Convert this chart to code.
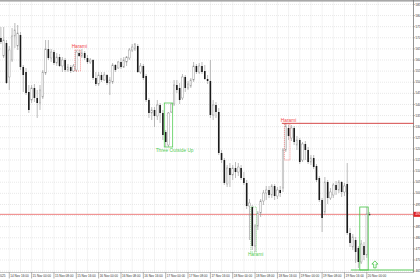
<!DOCTYPE html>
<html>
<head>
<meta charset="utf-8">
<script src="https://cdn.jsdelivr.net/npm/d3@7"></script>
<style>
  html, body { margin: 0; padding: 0; background: #fff; overflow: hidden; }
  svg { display: block; }
</style>
</head>
<body>
<div id="chart"></div>
<script>
const width = 420;
const height = 280;
const plotRight = 413.5;
const plotBottom = 272.5;
const barWidth = 1.6;

// hourly candles, first one at 14 Nov 2025 13:00
const startTime = Date.UTC(2025, 10, 14, 13);

const opens = [
  5699, 5618, 5676.5, 5523.5, 5600, 5708, 5663, 5712.5, 5568.5, 5546,
  5456, 5420, 5474, 5429, 5406.5, 5433.5, 5541.5, 5649.5, 5609, 5636,
  5586.5, 5613.5, 5573, 5600, 5555, 5568.5, 5550.5, 5555, 5631.5, 5618,
  5631.5, 5609, 5591, 5600, 5519, 5492, 5532.5, 5510, 5532.5, 5496.5,
  5501, 5577.5, 5564, 5591, 5568.5, 5591, 5609, 5645, 5649.5, 5663,
  5546, 5573, 5528, 5420, 5361.5, 5375, 5348, 5397.5, 5361.5, 5276,
  5217.5, 5366, 5402, 5487.5, 5474, 5429, 5523.5, 5474, 5483, 5510,
  5573, 5546, 5573, 5550.5, 5514.5, 5505.5, 5352.5, 5397.5, 5366, 5181.5,
  5150, 5042, 5114, 5082.5, 5114, 5096, 5114, 5069, 5046.5, 4943,
  4938.5, 4763, 4853, 4911.5, 4965.5, 5001.5, 5015, 4992.5, 5033, 4988,
  5015, 5024, 5195, 5294, 5249, 5294, 5217.5, 5240, 5150, 5222,
  5195, 5141, 5159, 5123, 5069, 4970, 4916, 5051, 4979, 4992.5,
  5037.5, 5015, 5051, 5006, 5042, 4821.5, 4758.5, 4790, 4754, 4691,
  4763, 4722.5, 4907
];
const highs = [
  5748.5, 5748.5, 5690, 5663, 5744, 5766.5, 5757.5, 5726, 5577.5, 5564,
  5487.5, 5487.5, 5492, 5465, 5487.5, 5555, 5690, 5690, 5649.5, 5645,
  5631.5, 5627, 5613.5, 5609, 5582, 5577.5, 5582, 5645, 5645, 5649.5,
  5640.5, 5622.5, 5609, 5604.5, 5546, 5546, 5546, 5546, 5537, 5523.5,
  5586.5, 5582, 5595.5, 5609, 5613.5, 5618, 5654, 5672, 5676.5, 5672,
  5586.5, 5582, 5537, 5429, 5388.5, 5388.5, 5420, 5406.5, 5375, 5285,
  5366, 5406.5, 5510, 5510, 5496.5, 5537, 5532.5, 5505.5, 5519, 5591,
  5582, 5586.5, 5591, 5577.5, 5532.5, 5600, 5420, 5411, 5384, 5195,
  5159, 5127.5, 5136.5, 5127.5, 5141, 5136.5, 5127.5, 5096, 5060, 4974.5,
  4947.5, 4862, 4920.5, 4974.5, 5015, 5033, 5033, 5042, 5042, 5028.5,
  5033, 5204, 5316.5, 5307.5, 5307.5, 5303, 5258, 5249, 5231, 5235.5,
  5208.5, 5172.5, 5172.5, 5132, 5078, 4979, 5073.5, 5060, 5024, 5046.5,
  5055.5, 5060, 5055.5, 5046.5, 5136.5, 4844, 4817, 4803.5, 4763, 4790,
  4781, 4938.5, 4916
];
const lows = [
  5672, 5609, 5492, 5465, 5591, 5654, 5645, 5555, 5456, 5442.5,
  5361.5, 5406.5, 5411, 5339, 5375, 5424.5, 5532.5, 5600, 5591, 5577.5,
  5573, 5568.5, 5546, 5546, 5546, 5541.5, 5546, 5546, 5613.5, 5609,
  5600, 5582, 5582, 5510, 5483, 5483, 5501, 5505.5, 5487.5, 5442.5,
  5492, 5546, 5559.5, 5559.5, 5564, 5573, 5600, 5636, 5640.5, 5541.5,
  5537, 5510, 5411, 5339, 5330, 5298.5, 5330, 5316.5, 5240, 5208.5,
  5208.5, 5361.5, 5393, 5451.5, 5402, 5420, 5456, 5465, 5474, 5501,
  5537, 5537, 5537, 5510, 5492, 5339, 5330, 5339, 5172.5, 5136.5,
  5037.5, 5028.5, 5028.5, 5060, 5069, 5078, 5060, 5037.5, 4929.5, 4790,
  4745, 4736, 4835, 4893.5, 4947.5, 4970, 4979, 4979, 4970, 4974.5,
  4983.5, 5006, 5186, 5240, 5235.5, 5217.5, 5195, 5132, 5141, 5150,
  5132, 5127.5, 5109.5, 5051, 4961, 4826, 4902.5, 4952, 4970, 4979,
  4992.5, 5001.5, 4983.5, 4988, 4812.5, 4758.5, 4745, 4686.5, 4664, 4682,
  4700, 4709, 4898
];
const closes = [
  5681, 5690, 5496.5, 5645, 5708, 5735, 5721.5, 5568.5, 5532.5, 5451.5,
  5375, 5474, 5429, 5406.5, 5465, 5546, 5649.5, 5609, 5636, 5586.5,
  5613.5, 5573, 5600, 5555, 5568.5, 5550.5, 5573, 5636, 5618, 5631.5,
  5609, 5591, 5600, 5519, 5492, 5532.5, 5510, 5532.5, 5496.5, 5510,
  5577.5, 5555, 5591, 5568.5, 5600, 5613.5, 5645, 5658.5, 5672, 5546,
  5573, 5519, 5420, 5361.5, 5375, 5348, 5397.5, 5361.5, 5262.5, 5231,
  5361.5, 5402, 5487.5, 5465, 5420, 5523.5, 5474, 5492, 5510, 5573,
  5546, 5573, 5546, 5514.5, 5505.5, 5352.5, 5397.5, 5366, 5181.5, 5150,
  5046.5, 5114, 5082.5, 5114, 5096, 5118.5, 5069, 5046.5, 4943, 4956.5,
  4763, 4853, 4911.5, 4965.5, 5001.5, 5015, 4992.5, 5033, 4988, 5015,
  5001.5, 5195, 5303, 5258, 5294, 5231, 5240, 5141, 5222, 5195,
  5141, 5159, 5118.5, 5060, 4970, 4889, 5051, 4979, 5006, 5037.5,
  5015, 5051, 5006, 5033, 4821.5, 4776.5, 4803.5, 4736, 4691, 4772,
  4722.5, 4907, 4905.5
];

const priceTicks = [
  5850, 5800, 5750, 5700, 5650, 5600, 5550, 5500, 5450, 5400, 5350, 5300,
  5250, 5200, 5150, 5100, 5050, 5000, 4950, 4900, 4850, 4800, 4750, 4700, 4650
];

const timeTicks = [
  ["2025-11-14T08:00Z", "14 Nov 2025"],
  ["2025-11-14T16:00Z", "14 Nov 16:00"],
  ["2025-11-15T00:00Z", "15 Nov 00:00"],
  ["2025-11-15T08:00Z", "15 Nov 08:00"],
  ["2025-11-15T16:00Z", "15 Nov 16:00"],
  ["2025-11-16T00:00Z", "16 Nov 00:00"],
  ["2025-11-16T08:00Z", "16 Nov 08:00"],
  ["2025-11-16T16:00Z", "16 Nov 16:00"],
  ["2025-11-17T00:00Z", "17 Nov 00:00"],
  ["2025-11-17T08:00Z", "17 Nov 08:00"],
  ["2025-11-17T16:00Z", "17 Nov 16:00"],
  ["2025-11-18T00:00Z", "18 Nov 00:00"],
  ["2025-11-18T08:00Z", "18 Nov 08:00"],
  ["2025-11-18T16:00Z", "18 Nov 16:00"],
  ["2025-11-19T00:00Z", "19 Nov 00:00"],
  ["2025-11-19T08:00Z", "19 Nov 08:00"],
  ["2025-11-19T16:00Z", "19 Nov 16:00"],
  ["2025-11-20T00:00Z", "20 Nov 00:00"]
];

const lastPrice = 4905.5;

// candle patterns found by the indicator (bar index range, price box, caption)
const patterns = [
  { name: "Harami", from: 27, to: 28, high: 5645, low: 5550.5, textAt: 28.1, textPrice: 5656, color: "#f04a4a", dash: "1,1" },
  { name: "Three Outside Up", from: 59, to: 61, high: 5406.5, low: 5208.5, textAt: 62.2, textPrice: 5188, color: "#55cc55", dash: null },
  { name: "Harami", from: 90, to: 91, high: 4938.5, low: 4736, textAt: 91.2, textPrice: 4718, color: "#55cc55", dash: "1,1" },
  { name: "Harami", from: 102, to: 103, high: 5312, low: 5150, textAt: 103, textPrice: 5319, color: "#f04a4a", dash: "1,1" },
  { name: "", from: 129, to: 131, high: 4938.5, low: 4655, color: "#44c444", dash: null }
];

// levels: start bar, price
const levels = [
  { from: 100.6, price: 5315, color: "#d03434", width: 0.9 },
  { from: 125.3, price: 4655, color: "#44c444", width: 0.9 }
];

const signalAt = 133.9;
const signalPrice = 4679.75;

const barTime = (i) => new Date(startTime + i * 3600e3);

const xScale = d3
  .scaleUtc()
  .domain([barTime(0), barTime(140)])
  .range([0.9, 0.9 + 140 * 2.793]);

const yScale = d3
  .scaleLinear()
  .domain([5870, 5870 - 4.5 * 280])
  .range([0, 280]);

const bx = (i) => xScale(barTime(i));

const svg = d3
  .select("#chart")
  .append("svg")
  .attr("width", width)
  .attr("height", height)
  .style("font-family", "'Liberation Sans', Arial, sans-serif");

// grid
const gridTimes = d3.utcHour.every(4).range(new Date("2025-11-14T08:00Z"), new Date("2025-11-20T08:00Z"));

svg
  .append("g")
  .selectAll("line")
  .data(gridTimes)
  .enter()
  .append("line")
  .attr("x1", (d) => xScale(d))
  .attr("x2", (d) => xScale(d))
  .attr("y1", 1.5)
  .attr("y2", plotBottom)
  .attr("stroke", "#d9d9d9")
  .attr("stroke-width", 0.6)
  .attr("stroke-dasharray", "1,1");

svg
  .append("g")
  .selectAll("line")
  .data(priceTicks)
  .enter()
  .append("line")
  .attr("x1", 0)
  .attr("x2", plotRight)
  .attr("y1", (d) => yScale(d))
  .attr("y2", (d) => yScale(d))
  .attr("stroke", "#d9d9d9")
  .attr("stroke-width", 0.6)
  .attr("stroke-dasharray", "1,1");

// frame
svg.append("rect").attr("x", 0).attr("y", 0).attr("width", width).attr("height", 1.6).attr("fill", "#a8a8a8");
svg.append("line").attr("x1", plotRight).attr("x2", plotRight).attr("y1", 0).attr("y2", plotBottom).attr("stroke", "#777").attr("stroke-width", 0.8);
svg.append("line").attr("x1", 0).attr("x2", plotRight).attr("y1", plotBottom).attr("y2", plotBottom).attr("stroke", "#999").attr("stroke-width", 0.6);

// current price line
svg
  .append("line")
  .attr("x1", 0)
  .attr("x2", plotRight)
  .attr("y1", yScale(lastPrice))
  .attr("y2", yScale(lastPrice))
  .attr("stroke", "#ec7272")
  .attr("stroke-width", 0.9);

// candles
const bars = d3.range(opens.length);

svg
  .append("g")
  .selectAll("line")
  .data(bars)
  .enter()
  .append("line")
  .attr("x1", (i) => bx(i))
  .attr("x2", (i) => bx(i))
  .attr("y1", (i) => yScale(highs[i]))
  .attr("y2", (i) => yScale(lows[i]))
  .attr("stroke", "#8e8e8e")
  .attr("stroke-width", 0.6);

svg
  .append("g")
  .selectAll("rect")
  .data(bars)
  .enter()
  .append("rect")
  .attr("x", (i) => bx(i) - barWidth / 2)
  .attr("width", barWidth)
  .attr("y", (i) => yScale(Math.max(opens[i], closes[i])))
  .attr("height", (i) => Math.max(0.7, Math.abs(yScale(opens[i]) - yScale(closes[i]))))
  .attr("fill", (i) => (closes[i] >= opens[i] ? "#fff" : "#1a1a1a"))
  .attr("stroke", (i) => (closes[i] >= opens[i] ? "#939393" : "none"))
  .attr("stroke-width", 0.45);

// levels
svg
  .append("g")
  .selectAll("line")
  .data(levels)
  .enter()
  .append("line")
  .attr("x1", (d) => bx(d.from))
  .attr("x2", plotRight)
  .attr("y1", (d) => yScale(d.price))
  .attr("y2", (d) => yScale(d.price))
  .attr("stroke", (d) => d.color)
  .attr("stroke-width", (d) => d.width);

// pattern boxes and captions
svg
  .append("g")
  .selectAll("rect")
  .data(patterns)
  .enter()
  .append("rect")
  .attr("x", (d) => bx(d.from) - 1.4)
  .attr("width", (d) => bx(d.to) - bx(d.from) + 2.8)
  .attr("y", (d) => yScale(d.high))
  .attr("height", (d) => yScale(d.low) - yScale(d.high))
  .attr("fill", "none")
  .attr("stroke", (d) => d.color)
  .attr("stroke-width", (d) => (d.dash ? 0.6 : 0.8))
  .attr("stroke-dasharray", (d) => d.dash);

svg
  .append("g")
  .selectAll("text")
  .data(patterns.filter((d) => d.name))
  .enter()
  .append("text")
  .attr("x", (d) => bx(d.textAt))
  .attr("y", (d) => yScale(d.textPrice))
  .attr("text-anchor", "middle")
  .attr("fill", (d) => d.color)
  .style("font-size", "4.8px")
  .text((d) => d.name);

// buy signal arrow
const ax = bx(signalAt);
const ay = yScale(signalPrice);
svg
  .append("path")
  .attr(
    "d",
    `M${ax},${ay - 3.6} L${ax + 3},${ay - 0.4} L${ax + 1.2},${ay - 0.4} L${ax + 1.2},${ay + 3.4} L${ax - 1.2},${ay + 3.4} L${ax - 1.2},${ay - 0.4} L${ax - 3},${ay - 0.4} Z`
  )
  .attr("fill", "#fff")
  .attr("stroke", "#44c444")
  .attr("stroke-width", 0.8);

// price axis
const lastY = yScale(lastPrice);
const axisTicks = priceTicks.filter((d) => Math.abs(yScale(d) - lastY) > 4);

svg
  .append("g")
  .selectAll("line")
  .data(priceTicks)
  .enter()
  .append("line")
  .attr("x1", plotRight)
  .attr("x2", plotRight + 1.5)
  .attr("y1", (d) => yScale(d))
  .attr("y2", (d) => yScale(d))
  .attr("stroke", "#777")
  .attr("stroke-width", 0.5);

svg
  .append("g")
  .selectAll("text")
  .data(axisTicks)
  .enter()
  .append("text")
  .attr("x", plotRight + 2)
  .attr("y", (d) => yScale(d) + 1.1)
  .attr("fill", "#333")
  .style("font-size", "3.1px")
  .text((d) => d3.format(".2f")(d));

svg.append("rect").attr("x", plotRight).attr("y", lastY - 2.5).attr("width", 10).attr("height", 5).attr("fill", "#e02424");
svg
  .append("text")
  .attr("x", plotRight + 2)
  .attr("y", lastY + 1.1)
  .attr("fill", "#fff")
  .style("font-size", "3.1px")
  .text(d3.format(".2f")(lastPrice));

// time axis
svg
  .append("g")
  .selectAll("line")
  .data(timeTicks)
  .enter()
  .append("line")
  .attr("x1", (d) => xScale(new Date(d[0])))
  .attr("x2", (d) => xScale(new Date(d[0])))
  .attr("y1", plotBottom)
  .attr("y2", plotBottom + 6)
  .attr("stroke", "#666")
  .attr("stroke-width", 0.5);

svg
  .append("g")
  .selectAll("text")
  .data(timeTicks)
  .enter()
  .append("text")
  .attr("x", (d) => xScale(new Date(d[0])) + 1)
  .attr("y", plotBottom + 4.8)
  .attr("fill", "#333")
  .style("font-size", "3.1px")
  .text((d) => d[1]);
</script>
</body>
</html>
